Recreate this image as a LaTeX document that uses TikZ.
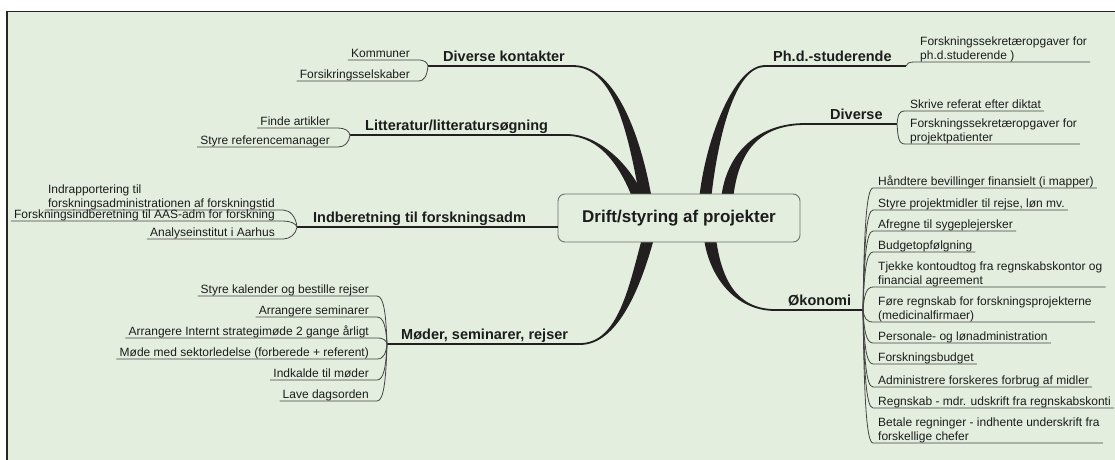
\documentclass[tikz,border=0pt]{standalone}
\usepackage{fontspec}
\setmainfont{Liberation Sans}
\usetikzlibrary{calc}
\definecolor{bgc}{RGB}{227,238,222}
\definecolor{brc}{RGB}{35,31,32}
\definecolor{txc}{RGB}{28,28,28}
\definecolor{slc}{RGB}{68,68,68}
\definecolor{nbc}{RGB}{110,110,110}
\pgfdeclarelayer{bglayer}
\pgfdeclarelayer{brlayer}
\pgfsetlayers{bglayer,brlayer,main}
% tapered main branch: #1 thin end, #2 control offset at thin end, #3 thick end, #4 control offset at thick end, #5 signed half width
\newcommand{\taper}[5]{%
  \fill[brc] ($(#1)+(0,-0.9)$) .. controls ($(#1)+(#2)+(0,-0.9)$) and ($(#3)+(#4)+(#5,0)$) .. ($(#3)+(#5,0)$)
    -- ($(#3)+({-(#5)},0)$) .. controls ($(#3)+(#4)+({-(#5)},0)$) and ($(#1)+(#2)+(0,0.9)$) .. ($(#1)+(0,0.9)$) -- cycle;}
% left sub item: name, E, B, dy, text
\newcommand{\litem}[5]{%
  \node[sub, anchor=base east] (#1) at ($(#2)+(-8,-3)$) {#5};
  \draw[subline] ($(#1.west |- #2)+(-3,0)$) -- (#2) .. controls +(7,0) and +(-1,#4) .. (#3);}
% right sub item: name, B, E, dy, text
\newcommand{\ritem}[5]{%
  \node[sub, anchor=base west] (#1) at ($(#3)+(5,-3)$) {#5};
  \draw[subline] (#2) .. controls +(1,#4) and +(-7,0) .. (#3) -- ($(#1.east |- #3)+(3,0)$);}
\newcommand{\two}[2]{\begin{tabular}[b]{@{}l@{}}#1\\#2\end{tabular}}
\begin{document}
\begin{tikzpicture}[x=1pt,y=-1pt,
  sub/.style={inner sep=0pt, text=txc, font=\fontsize{12}{14}\selectfont},
  topic/.style={inner sep=0pt, text=txc, font=\fontsize{14.5}{17}\selectfont\bfseries, anchor=base west},
  subline/.style={draw=slc, line width=0.8pt},
  topline/.style={draw=brc, line width=1.2pt},
  center/.style={draw=nbc, fill=bgc, rounded corners=7pt, minimum width=242pt, minimum height=48pt,
    line width=0.9pt, inner sep=0pt, text=txc, font=\fontsize{17}{20}\selectfont\bfseries}]
\useasboundingbox (0,0) rectangle (1115,459);
\begin{pgfonlayer}{bglayer}
  \fill[white] (0,0) rectangle (1115,459);
  \fill[bgc] (7,11) rectangle (1125,470);
  \draw[black!85, line width=1pt] (7,11) -- (1125,11);
  \draw[black!85, line width=2pt] (7,11) -- (7,470);
\end{pgfonlayer}

\node[center] (c) at (679,218) {Drift/styring af projekter};

% main topic coordinates
\coordinate (dkT) at (573,66);   \coordinate (dkB) at (428,66);
\coordinate (litT) at (567,135); \coordinate (litB) at (350,135);
\coordinate (inB) at (297,227);
\coordinate (moT) at (580,344);  \coordinate (moB) at (387,344);
\coordinate (phT) at (765,66);   \coordinate (phB) at (906,66);
\coordinate (dvT) at (805,124);  \coordinate (dvB) at (897,124);
\coordinate (okT) at (775,310);  \coordinate (okB) at (863,310);
\coordinate (dkK) at ($(c.north)+(-33,6)$);
\coordinate (litK) at ($(c.north)+(-40,6)$);
\coordinate (phK) at ($(c.north)+(26,6)$);
\coordinate (dvK) at ($(c.north)+(48,6)$);
\coordinate (moK) at ($(c.south)+(-31,-4)$);
\coordinate (okK) at ($(c.south)+(31,-4)$);

\begin{pgfonlayer}{brlayer}
  \taper{dkT}{39,0}{dkK}{-13,-74}{6}
  \taper{litT}{33,0}{litK}{-12,-32}{6}
  \taper{phT}{-30,0}{phK}{7,-64}{-6}
  \taper{dvT}{-45,0}{dvK}{5,-49}{-6}
  \taper{moT}{38,0}{moK}{-13,48}{-6}
  \taper{okT}{-40,0}{okK}{5,38}{6}
\end{pgfonlayer}

% main topic lines and labels
\draw[topline] (dkT) -- (dkB);
\draw[topline] (litT) -- (litB);
\draw[topline] (inB -| c.west) -- (inB);
\draw[topline] (moT) -- (moB);
\draw[topline] (phT) -- (phB);
\draw[topline] (dvT) -- (dvB);
\draw[topline] (okT) -- (okB);
\node[topic] (dk) at (443,61) {Diverse kontakter};
\node[topic] (lit) at (365,130) {Litteratur/litteratursøgning};
\node[topic] (ind) at (313,222) {Indberetning til forskningsadm};
\node[topic] (mo) at (401,339) {Møder, seminarer, rejser};
\node[topic] (ph) at (773,61) {Ph.d.-studerende};
\node[topic] (dv) at (830,119) {Diverse};
\node[topic] (ok) at (788,305) {Økonomi};

% left sub items
\coordinate (kE) at (418,60); \coordinate (fE) at (418,81);
\litem{kom}{kE}{dkB}{-3.6}{Kommuner}
\litem{fors}{fE}{dkB}{9}{Forsikringsselskaber}
\coordinate (faE) at (338,128); \coordinate (srE) at (338,147);
\litem{fa}{faE}{litB}{-4.2}{Finde artikler}
\litem{sr}{srE}{litB}{7.2}{Styre referencemanager}
\coordinate (i1E) at (283,210); \coordinate (i2E) at (283,221); \coordinate (i3E) at (283,239);
\litem{i1}{i1E}{inB}{-10.2}{\two{Indrapportering til}{forskningsadministrationen af forskningstid}}
\litem{i2}{i2E}{inB}{-3.6}{Forskningsindberetning til AAS-adm for forskning}
\litem{i3}{i3E}{inB}{7.2}{Analyseinstitut i Aarhus}
\coordinate (m1E) at (377,296); \coordinate (m2E) at (377,317); \coordinate (m3E) at (377,338);
\coordinate (m4E) at (377,359); \coordinate (m5E) at (377,380); \coordinate (m6E) at (377,401);
\litem{m1}{m1E}{moB}{-28.8}{Styre kalender og bestille rejser}
\litem{m2}{m2E}{moB}{-16.2}{Arrangere seminarer}
\litem{m3}{m3E}{moB}{-3.6}{Arrangere Internt strategimøde 2 gange årligt}
\litem{m4}{m4E}{moB}{9}{Møde med sektorledelse (forberede + referent)}
\litem{m5}{m5E}{moB}{21.6}{Indkalde til møder}
\litem{m6}{m6E}{moB}{34.2}{Lave dagsorden}

% right sub items
\coordinate (pE) at (915,62);
\ritem{p1}{phB}{pE}{-2.4}{\two{Forskningssekretæropgaver for}{ph.d.studerende )}}
\coordinate (d1E) at (905,111); \coordinate (d2E) at (905,144);
\ritem{d1}{dvB}{d1E}{-7.8}{Skrive referat efter diktat}
\ritem{d2}{dvB}{d2E}{12}{\two{Forskningssekretæropgaver for}{projektpatienter}}
\coordinate (o1E) at (873,188); \coordinate (o2E) at (873,210); \coordinate (o3E) at (873,231);
\coordinate (o4E) at (873,252); \coordinate (o5E) at (873,287); \coordinate (o6E) at (873,322);
\coordinate (o7E) at (873,343); \coordinate (o8E) at (873,364); \coordinate (o9E) at (873,387);
\coordinate (o10E) at (873,408); \coordinate (o11E) at (873,443);
\ritem{o1}{okB}{o1E}{-73.2}{Håndtere bevillinger finansielt (i mapper)}
\ritem{o2}{okB}{o2E}{-60}{Styre projektmidler til rejse, løn mv.}
\ritem{o3}{okB}{o3E}{-47.4}{Afregne til sygeplejersker}
\ritem{o4}{okB}{o4E}{-34.8}{Budgetopfølgning}
\ritem{o5}{okB}{o5E}{-13.8}{\two{Tjekke kontoudtog fra regnskabskontor og}{financial agreement}}
\ritem{o6}{okB}{o6E}{7.2}{\two{Føre regnskab for forskningsprojekterne}{(medicinalfirmaer)}}
\ritem{o7}{okB}{o7E}{19.8}{Personale- og lønadministration}
\ritem{o8}{okB}{o8E}{32.4}{Forskningsbudget}
\ritem{o9}{okB}{o9E}{46.2}{Administrere forskeres forbrug af midler}
\ritem{o10}{okB}{o10E}{58.8}{Regnskab - mdr. udskrift fra regnskabskonti}
\ritem{o11}{okB}{o11E}{79.8}{\two{Betale regninger - indhente underskrift fra}{forskellige chefer}}
\end{tikzpicture}
\end{document}
